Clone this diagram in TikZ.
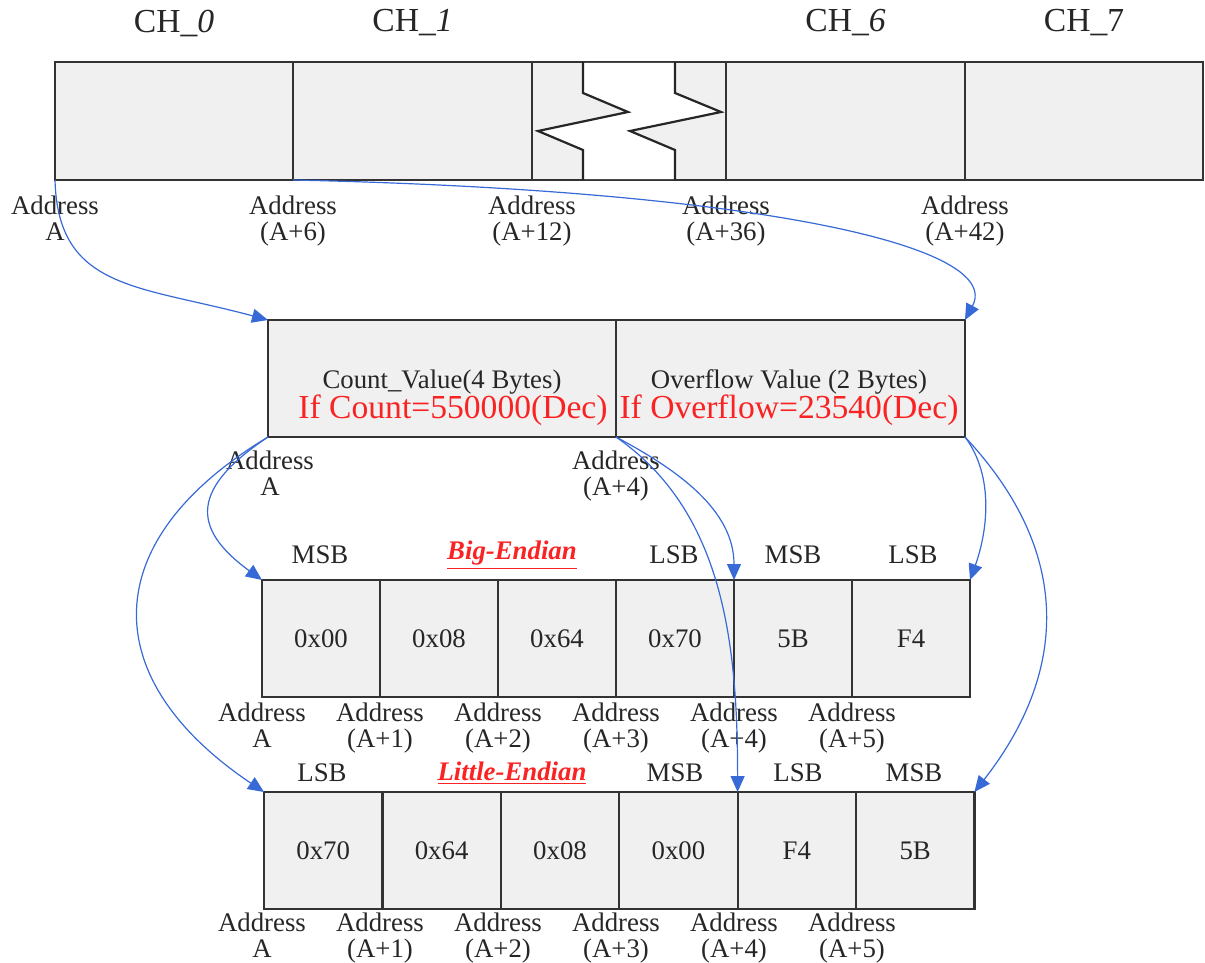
\documentclass[tikz,border=0pt]{standalone}
\usepackage{fontspec}
\setmainfont{Liberation Serif}
\usetikzlibrary{arrows.meta}
\usetikzlibrary{positioning}
\definecolor{linkblue}{RGB}{55,105,215}
\definecolor{valred}{RGB}{250,35,35}
\definecolor{cellgray}{RGB}{240,240,240}
\tikzstyle{cell}=[rectangle,draw=black!80,line width=1.1pt,fill=cellgray,inner sep=0pt,outer sep=0pt,anchor=north west,minimum height=58.5pt,text=black!85,font=\fontsize{13.4}{13}\selectfont]
\tikzstyle{addr}=[align=center,inner sep=0pt,text=black!85,font=\fontsize{13.4}{13}\selectfont]
\tikzstyle{tag}=[inner sep=0pt,text=black!85,font=\fontsize{13.4}{13}\selectfont]
\tikzstyle{big}=[inner sep=0pt,font=\fontsize{16.8}{16}\selectfont]
\tikzstyle{endian}=[inner sep=0pt,text=valred,font=\fontsize{13.4}{13}\selectfont\bfseries\itshape]
\tikzstyle{link}=[-{Triangle[length=8pt,width=7pt]},draw=linkblue,fill=none,line width=0.6pt]
\newcommand{\addrA}{\vphantom{(}A}

\begin{document}
\begin{tikzpicture}[x=0.5pt,y=0.5pt]
  \useasboundingbox (0,0) rectangle (1205,-963);

  % channel bar
  \node[cell,minimum width=119pt,minimum height=59pt] (ch0) at (55,-62) {};
  \node[cell,minimum width=119.5pt,minimum height=59pt] (ch1) at (293,-62) {};
  \node[cell,minimum width=97pt,minimum height=59pt] (gap) at (532,-62) {};
  \node[cell,minimum width=119.5pt,minimum height=59pt] (ch6) at (726,-62) {};
  \node[cell,minimum width=119pt,minimum height=59pt] (ch7) at (965,-62) {};

  % break in the bar
  \fill[white] (583,-63) -- (583,-93) -- (628,-112) -- (538,-131) -- (583,-150) -- (583,-179)
     -- (675,-179) -- (675,-150) -- (630,-131) -- (721,-112) -- (675,-93) -- (675,-63) -- cycle;
  \draw[black!85,line width=1.1pt] (583,-62) -- (583,-93) -- (628,-112) -- (538,-131) -- (583,-150) -- (583,-180);
  \draw[black!85,line width=1.1pt] (675,-62) -- (675,-93) -- (721,-112) -- (630,-131) -- (675,-150) -- (675,-180);

  \foreach \c/\t in {ch0/{CH\_\textit{0}}, ch1/{CH\_\textit{1}}, ch6/{CH\_\textit{6}}, ch7/{CH\_7}}
      \node[big,text=black!85] (l\c) at ([yshift=19.5pt]\c.north) {\t};

  \foreach \c/\t in {ch0/\addrA, ch1/{(A+6)}, gap/{(A+12)}, ch6/{(A+36)}, ch7/{(A+42)}}
      \node[addr] (a\c) at ([yshift=-20.5pt]\c.south west) {Address\\\t};

  % count / overflow
  \node[cell,minimum width=174pt] (cnt) at (268,-320) {};
  \node[cell,minimum width=174.5pt] (ovf) at (616,-320) {};
  \node[tag] (cntname) at (442,-382) {Count\_Value(4 Bytes)};
  \node[big,text=valred] (cntval) at (453,-410) {If Count=550000(Dec)};
  \node[tag] (ovfname) at (789,-382) {Overflow Value (2 Bytes)};
  \node[big,text=valred] (ovfval) at (789,-410) {If Overflow=23540(Dec)};
  \node[addr] (cntaddr) at (270,-476) {Address\\\addrA};
  \node[addr] (ovfaddr) at (616,-476) {Address\\(A+4)};

  % big endian
  \foreach \v [count=\i from 0] in {0x00,0x08,0x64,0x70,5B,F4}
      \node[cell,minimum width=59pt] (big\i) at ({262+118*\i},-580) {\v};
  \foreach \x/\t in {320/MSB, 674/LSB, 793/MSB, 913/LSB}
      \node[tag] (bigtag\x) at (\x,-555) {\t};
  \node[endian] (bigtitle) at (512,-555) {\underline{Big-Endian}};
  \node[addr] (bigaddr0) at (262,-728) {Address\\\addrA};
  \foreach \i in {1,...,5}
      \node[addr] (bigaddr\i) at ({262+118*\i},-728) {Address\\(A+\i)};

  % little endian
  \foreach \v [count=\i from 0] in {0x70,0x64,0x08,0x00,F4,5B}
      \node[cell,minimum width=59.2pt] (lit\i) at ({264+118.4*\i},-792) {\v};
  \foreach \x/\t in {322/LSB, 675/MSB, 798/LSB, 914/MSB}
      \node[tag] (littag\x) at (\x,-773) {\t};
  \node[endian] (littitle) at (512,-773) {\underline{Little-Endian}};
  \node[addr] (litaddr0) at (262,-938) {Address\\\addrA};
  \foreach \i in {1,...,5}
      \node[addr] (litaddr\i) at ({262+118*\i},-938) {Address\\(A+\i)};

  % links
  \draw[link] (ch0.south west) .. controls +(3,-110) and +(-130,35) .. (cnt.north west);
  \draw[link] (ch1.south west) .. controls +(457,-10) and +(40,75) .. (ovf.north east);
  \draw[link] (cnt.south west) .. controls +(-75,-50) and +(-73,53) .. (big0.north west);
  \draw[link] (cnt.south west) .. controls +(-173,-104) and +(-168,113) .. (lit0.north west);
  \draw[link] (cnt.south east) .. controls +(62,-33) and +(0,70) .. (big4.north west);
  \draw[link] (cnt.south east) .. controls +(107,-74) and +(0,150) .. (lit4.north west);
  \draw[link] (ovf.south east) .. controls +(30,-40) and +(17,47) .. (big5.north east);
  \draw[link] (ovf.south east) .. controls +(116,-124) and +(86,110) .. (lit5.north east);

\end{tikzpicture}
\end{document}
